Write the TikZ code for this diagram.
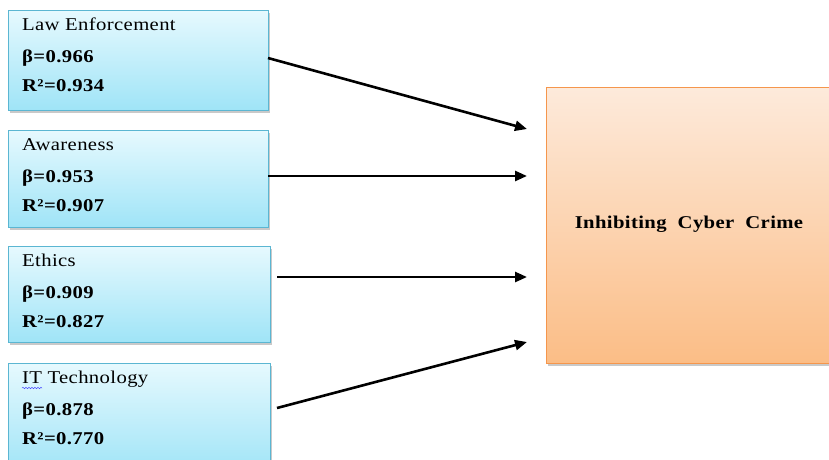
\documentclass[tikz,border=0pt]{standalone}
\usepackage{fontspec}
\setmainfont{Liberation Serif}[FakeStretch=1.15, LetterSpace=2]
\usetikzlibrary{arrows.meta,shadows,decorations.pathmorphing}
\definecolor{intop}{HTML}{E6F9FE}
\definecolor{inbot}{HTML}{9FE4F7}
\definecolor{inborder}{HTML}{5BB6D2}
\definecolor{outtop}{HTML}{FDEADB}
\definecolor{outbot}{HTML}{FBBD86}
\definecolor{outborder}{HTML}{F5964C}
\tikzset{
  inbox/.style={draw=inborder, line width=0.9pt, top color=intop, bottom color=inbot,
    drop shadow={shadow xshift=2pt, shadow yshift=-2.5pt, opacity=0.35, fill=black!60},
    minimum width=260pt, anchor=north west, inner sep=0pt},
  outbox/.style={draw=outborder, line width=0.9pt, top color=outtop, bottom color=outbot,
    drop shadow={shadow xshift=2pt, shadow yshift=-2.5pt, opacity=0.35, fill=black!60},
    anchor=north west, inner sep=0pt},
  lbl/.style={anchor=base west, inner sep=0pt, font=\fontsize{18}{21}\selectfont},
  val/.style={anchor=base west, inner sep=0pt, font=\fontsize{18}{21}\selectfont\bfseries},
  arr/.style={line width=2.6pt, -{Triangle[length=12pt,width=10pt]}},
}
\begin{document}
\begin{tikzpicture}[x=1pt,y=-1pt]
\useasboundingbox (0,0) rectangle (829,459);
\fill[white] (0,0) rectangle (829,459);

% boxes
\node[inbox, minimum height=100pt] (b1) at (8,10) {};
\node[inbox, minimum height=97pt] (b2) at (8,130) {};
\node[inbox, minimum width=262pt, minimum height=96pt] (b3) at (8,246) {};
\node[inbox, minimum width=262pt, minimum height=110pt] (b4) at (8,363) {};
\node[outbox, minimum width=300pt, minimum height=276pt] (out) at (546,87) {};

% texts
\node[lbl] (t1a) at (22,30) {Law Enforcement};
\node[val] (t1b) at (22,62) {β=0.966};
\node[val] (t1c) at (22,91) {R²=0.934};

\node[lbl] (t2a) at (22,150) {Awareness};
\node[val] (t2b) at (22,182) {β=0.953};
\node[val] (t2c) at (22,211) {R²=0.907};

\node[lbl] (t3a) at (22,266) {Ethics};
\node[val] (t3b) at (22,298) {β=0.909};
\node[val] (t3c) at (22,327) {R²=0.827};

\node[lbl] (t4a) at (22,383) {IT Technology};
\node[val] (t4b) at (22,415) {β=0.878};
\node[val] (t4c) at (22,444) {R²=0.770};
\draw[blue!70, line width=0.5pt, decorate, decoration={snake, amplitude=0.7pt, segment length=3pt}]
  (22,388) -- (42,388);

\node[font=\fontsize{18}{21}\selectfont\bfseries, inner sep=0pt] (c) at (689,224) {Inhibiting\ \ Cyber\ \ Crime};

% connector ends
\coordinate (s1) at (268,58);  \coordinate (e1) at (527,129);
\coordinate (s2) at (268,176); \coordinate (e2) at (527,176);
\coordinate (s3) at (277,277); \coordinate (e3) at (527,277);
\coordinate (s4) at (277,408); \coordinate (e4) at (527,342);

\draw[arr] (s1) -- (e1);
\draw[arr] (s2) -- (e2);
\draw[arr] (s3) -- (e3);
\draw[arr] (s4) -- (e4);
\end{tikzpicture}
\end{document}
